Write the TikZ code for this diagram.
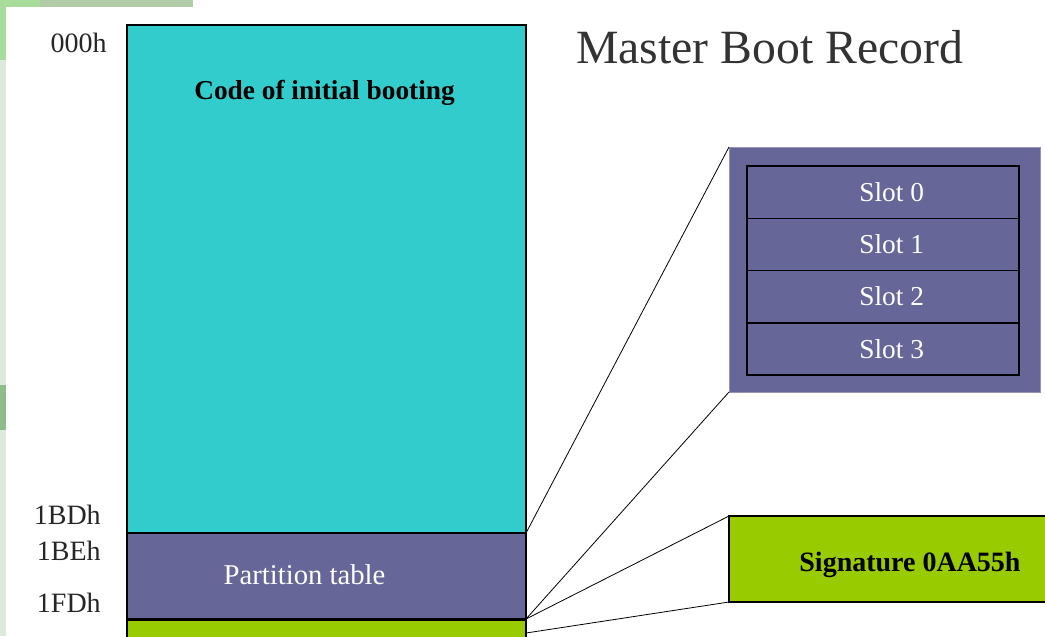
\documentclass[tikz,border=0pt]{standalone}
\usepackage{fontspec}
\setmainfont{Liberation Serif}
\usetikzlibrary{positioning}
\definecolor{mbrcyan}{HTML}{33CCCC}
\definecolor{mbrpurple}{HTML}{666699}
\definecolor{mbrgreen}{HTML}{99CC00}
\definecolor{titlegray}{HTML}{333333}
\definecolor{bgstrip}{HTML}{DEE9DE}
\definecolor{bgtop}{HTML}{B2CCA8}
\definecolor{bgtopl}{HTML}{A8DC9A}
\definecolor{bgpatch}{HTML}{90BC8C}
\tikzset{
  mbrbox/.style={draw=black, line width=1.1pt, anchor=north west, inner sep=0pt, outer sep=0pt},
  slotbox/.style={draw=black, line width=1.1pt, fill=mbrpurple, text=white, inner sep=0pt, outer sep=0pt,
     minimum width=204pt, minimum height=39.19pt, font=\fontsize{20.5}{22}\selectfont},
  offset/.style={font=\fontsize{21}{23}\selectfont, text=black!85, inner sep=0pt, anchor=base east},
  link/.style={draw=black, line width=0.6pt}
}
\newcommand{\slotshift}{\hspace*{13pt}}
\begin{document}
\begin{tikzpicture}[x=0.75pt, y=-0.75pt]
\useasboundingbox (0,0) rectangle (1045,636);
% background of the slide
\fill[bgstrip] (0,0) rectangle (6,636);
\fill[bgpatch] (0,385) rectangle (6,430);
\fill[bgtop] (0,0) rectangle (193,7);
\fill[bgtopl] (0,0) rectangle (40,7);
\fill[bgtopl] (0,0) rectangle (6,60);
\fill[white] (6,7) rectangle (1045,636);
% title
\node[anchor=base west, inner sep=0pt, text=titlegray, font=\fontsize{35.8}{40}\selectfont] (title) at (576,63) {Master Boot Record};
% main column
\node[mbrbox, fill=mbrcyan, minimum width=299.25pt, minimum height=381pt] (code) at (127,25) {};
\node[anchor=base, inner sep=0pt, font=\bfseries\fontsize{20.5}{22}\selectfont] (codelbl) at (324.5,99) {Code of initial booting};
\node[mbrbox, fill=mbrpurple, minimum width=299.25pt, minimum height=64.5pt] (part) at (127,533) {};
\node[anchor=base, inner sep=0pt, text=white, font=\fontsize{21.5}{23}\selectfont] (partlbl) at (304.5,584) {Partition table};
\node[mbrbox, fill=mbrgreen, minimum width=299.25pt, minimum height=22.5pt] (sigsmall) at (127,620) {};
% offsets
\node[offset] (o0) at (107,52) {000h};
\node[offset] (o1) at (101,524) {1BDh};
\node[offset] (o2) at (101,560) {1BEh};
\node[offset] (o3) at (101,612) {1FDh};
% partition table detail
\node[anchor=north west, fill=mbrpurple, draw=mbrpurple!70!white, line width=0.6pt, inner sep=0pt, outer sep=0pt,
      minimum width=233.25pt, minimum height=183.75pt] (slots) at (729,147) {};
\node[slotbox, anchor=north west] (s0) at (747,166) {\slotshift Slot 0};
\node[slotbox, below=0pt of s0] (s1) {\slotshift Slot 1};
\node[slotbox, below=0pt of s1] (s2) {\slotshift Slot 2};
\node[slotbox, below=0pt of s2] (s3) {\slotshift Slot 3};
% signature detail
\node[mbrbox, fill=mbrgreen, minimum width=272.25pt, minimum height=64.5pt] (sig) at (729,516) {};
\node[anchor=base, inner sep=0pt, font=\bfseries\fontsize{21}{23}\selectfont] (siglbl) at (910,571) {Signature 0AA55h};
% connectors
\coordinate (sigend) at (526,633);
\draw[link] (code.south east) -- (slots.north west);
\draw[link] (part.south east) -- (slots.south west);
\draw[link] (part.south east) -- (sig.north west);
\draw[link] (sigend) -- (sig.south west);
\end{tikzpicture}
\end{document}
